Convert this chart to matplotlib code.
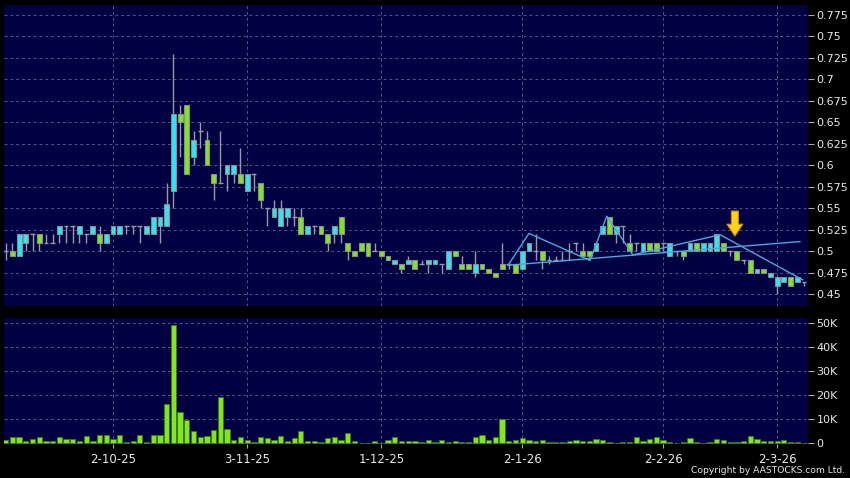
import numpy as np
import matplotlib
matplotlib.use('Agg')
import matplotlib.pyplot as plt

# daily OHLC (index = trading day)
opens = [.50, .50, .495, .51, .52, .52, .51, .51, .52, .53, .53, .52, .52, .52, .52, .51, .52, .52, .53, .53,
         .53, .52, .52, .53, .53, .57, .66, .67, .61, .64, .63, .59, .58, .59, .59, .59, .57, .59, .58, .55,
         .54, .53, .54, .54, .54, .52, .53, .53, .52, .52, .54, .51, .50, .51, .51, .50, .50, .495, .485, .485,
         .485, .49, .485, .485, .485, .485, .48, .50, .485, .485, .475, .485, .48, .475, .485, .485, .485, .48, .50, .50,
         .50, .49, .49, .49, .50, .51, .50, .50, .50, .52, .54, .52, .53, .51, .51, .50, .51, .51, .51, .495,
         .50, .50, .50, .51, .50, .50, .50, .51, .50, .50, .49, .49, .475, .48, .47, .46, .465, .47, .465, .465]
highs = [.51, .51, .52, .52, .52, .52, .52, .52, .53, .53, .53, .53, .52, .53, .53, .52, .53, .53, .53, .53,
         .53, .53, .54, .54, .58, .73, .67, .67, .64, .65, .64, .59, .64, .60, .60, .62, .59, .59, .58, .55,
         .56, .56, .55, .55, .55, .53, .53, .53, .52, .53, .54, .51, .50, .51, .51, .51, .50, .495, .49, .485,
         .495, .49, .49, .49, .49, .485, .50, .50, .495, .485, .50, .485, .48, .475, .51, .485, .485, .50, .51, .52,
         .50, .495, .495, .50, .51, .51, .51, .50, .51, .53, .54, .53, .53, .52, .51, .51, .51, .51, .51, .51,
         .50, .50, .51, .51, .51, .51, .52, .51, .50, .50, .49, .49, .48, .48, .475, .47, .47, .47, .47, .465]
lows = [.49, .495, .495, .50, .50, .50, .51, .51, .51, .51, .51, .51, .51, .52, .50, .51, .52, .52, .52, .52,
        .51, .52, .52, .51, .53, .55, .61, .59, .60, .62, .60, .56, .58, .57, .58, .58, .57, .57, .55, .53,
        .54, .53, .53, .53, .52, .52, .52, .52, .50, .51, .51, .49, .495, .50, .495, .50, .495, .49, .485, .475,
        .485, .48, .485, .475, .485, .475, .48, .495, .48, .48, .47, .48, .475, .47, .48, .48, .475, .48, .50, .49,
        .48, .485, .49, .49, .49, .50, .495, .49, .50, .52, .52, .51, .51, .50, .50, .50, .50, .50, .50, .495,
        .495, .49, .50, .50, .50, .50, .50, .50, .495, .49, .485, .475, .475, .475, .47, .45, .465, .46, .465, .46]
closes = [.50, .495, .52, .52, .52, .51, .51, .51, .53, .53, .53, .53, .52, .53, .51, .52, .53, .53, .53, .53,
          .53, .53, .54, .54, .555, .66, .65, .59, .63, .64, .60, .58, .58, .60, .60, .58, .59, .59, .56, .55,
          .55, .55, .55, .54, .52, .53, .53, .52, .51, .53, .52, .50, .495, .50, .495, .50, .495, .49, .49, .48,
          .49, .48, .485, .49, .49, .485, .50, .495, .48, .48, .485, .48, .475, .47, .48, .485, .475, .50, .51, .50,
          .49, .49, .49, .49, .50, .51, .495, .495, .51, .53, .52, .53, .53, .50, .51, .51, .50, .50, .51, .51,
          .50, .495, .51, .50, .51, .51, .52, .50, .50, .49, .49, .475, .48, .475, .475, .47, .47, .46, .47, .465]

# volume in thousands
volume = [1.4, 2.5, 2.5, 1.1, 1.9, 2.6, 1.0, 1.0, 2.6, 1.9, 1.7, 1.1, 3.1, 1.1, 3.3, 3.3, 1.9, 3.6, 0.4, 1.0,
          3.5, 0.4, 3.6, 3.6, 16.3, 49.3, 13.0, 9.7, 5.0, 2.8, 3.1, 5.6, 19.2, 6.0, 1.4, 2.6, 1.5, 0.7, 2.8, 2.2,
          1.5, 3.2, 0.8, 2.2, 5.1, 1.1, 1.1, 0.4, 2.4, 2.8, 1.5, 4.4, 1.0, 0.3, 0.3, 1.0, 0.3, 1.2, 2.8, 1.1,
          1.1, 1.1, 0.4, 1.4, 0.6, 1.4, 0.6, 0.8, 0.6, 0.6, 2.8, 3.3, 1.5, 2.6, 10.0, 0.8, 1.2, 2.2, 1.2, 0.8,
          1.5, 0.4, 0.4, 0.4, 1.0, 1.2, 0.8, 0.8, 1.8, 1.2, 0.4, 0.1, 0.6, 0.7, 2.6, 1.0, 1.8, 2.8, 1.4, 0.6,
          0.1, 0.4, 2.1, 0.4, 0.3, 0.6, 1.7, 1.5, 0.4, 0.7, 0.8, 3.2, 1.7, 1.1, 1.1, 1.0, 1.5, 0.6, 0.4, 0.2]

tick_idx = [16, 36, 56, 77, 98, 115]
tick_labels = ['2-10-25', '3-11-25', '1-12-25', '2-1-26', '2-2-26', '2-3-26']
price_ticks = [0.45, 0.475, 0.5, 0.525, 0.55, 0.575, 0.6, 0.625, 0.65, 0.675, 0.7, 0.725, 0.75, 0.775]
vol_ticks = [0, 10, 20, 30, 40, 50]
vol_labels = ['0', '10K', '20K', '30K', '40K', '50K']

# hand-drawn trend lines (day index, price)
zigzag_x = [74.9, 78.0, 87.1, 89.6, 93.5, 106.5, 118.8]
zigzag_y = [0.484, 0.521, 0.4895, 0.541, 0.496, 0.5195, 0.467]
support_x = [74.9, 118.4]
support_y = [0.484, 0.5115]
arrow_x = 108.7
arrow_top, arrow_tip = 0.547, 0.518

BG = '#000042'
CYAN = '#33E3F2'
GREEN = '#7FE622'
WICK = '#9A9AA6'
GRID = '#55558A'
TXT = '#E8E8E8'

fig = plt.figure(figsize=(8.5, 4.78), dpi=100, facecolor='black')
ax1 = fig.add_axes([4/850, 1-306/478, 804/850, 301/478], facecolor=BG)
ax2 = fig.add_axes([4/850, 1-444.3/478, 804/850, 126/478], facecolor=BG)

o = np.array(opens); h = np.array(highs); l = np.array(lows); c = np.array(closes)
x = np.arange(len(o))

ax1.vlines(x, l, h, color=WICK, lw=1, zorder=2)
w = 0.72
for i in x:
    if c[i] == o[i]:
        ax1.hlines(o[i], i - w/2, i + w/2, color=WICK, lw=1, zorder=3)
    else:
        col = CYAN if c[i] > o[i] else GREEN
        ax1.bar(i, abs(c[i]-o[i]), bottom=min(o[i], c[i]), width=w, color=col,
                edgecolor='#8C8C8C', linewidth=0.8, zorder=3)

ax1.plot(zigzag_x, zigzag_y, color='#4EA6E0', lw=1, zorder=4)
ax1.plot(support_x, support_y, color='#4EA6E0', lw=1, zorder=4)
ax1.annotate('', xy=(arrow_x, arrow_tip), xytext=(arrow_x, arrow_top),
             arrowprops=dict(arrowstyle='simple,head_width=1.15,head_length=0.85,tail_width=0.5',
                             fc='#FFD21F', ec='#D08A00', lw=0.8, shrinkA=0, shrinkB=0), zorder=5)

ax2.bar(x, volume, width=0.78, color=GREEN, edgecolor='#3C7A12', linewidth=0.6, zorder=3)

for ax in (ax1, ax2):
    ax.set_xlim(-0.25, 119.6)
    ax.set_xticks(tick_idx)
    ax.yaxis.tick_right()
    ax.grid(True, color=GRID, linestyle=(0, (3, 3)), lw=0.7, zorder=0)
    ax.tick_params(axis='y', colors='#AAAAAA', labelcolor=TXT, labelsize=8, length=4, pad=2)
    for s in ax.spines.values():
        s.set_visible(False)

ax1.set_ylim(0.4366, 0.7866)
ax1.set_yticks(price_ticks)
ax1.set_yticklabels(['%g' % p for p in price_ticks])
ax1.tick_params(axis='x', length=0, labelbottom=False)

ax2.set_ylim(-0.4, 52.1)
ax2.set_yticks(vol_ticks)
ax2.set_yticklabels(vol_labels)
ax2.set_xticklabels(tick_labels)
ax2.tick_params(axis='x', colors='#AAAAAA', labelcolor=TXT, labelsize=8.5, length=3, pad=3)

fig.text(0.994, 0.006, 'Copyright by AASTOCKS.com Ltd.', color=TXT, fontsize=6.6,
         ha='right', va='bottom')

fig.savefig('out.png', dpi=100, facecolor='black')
